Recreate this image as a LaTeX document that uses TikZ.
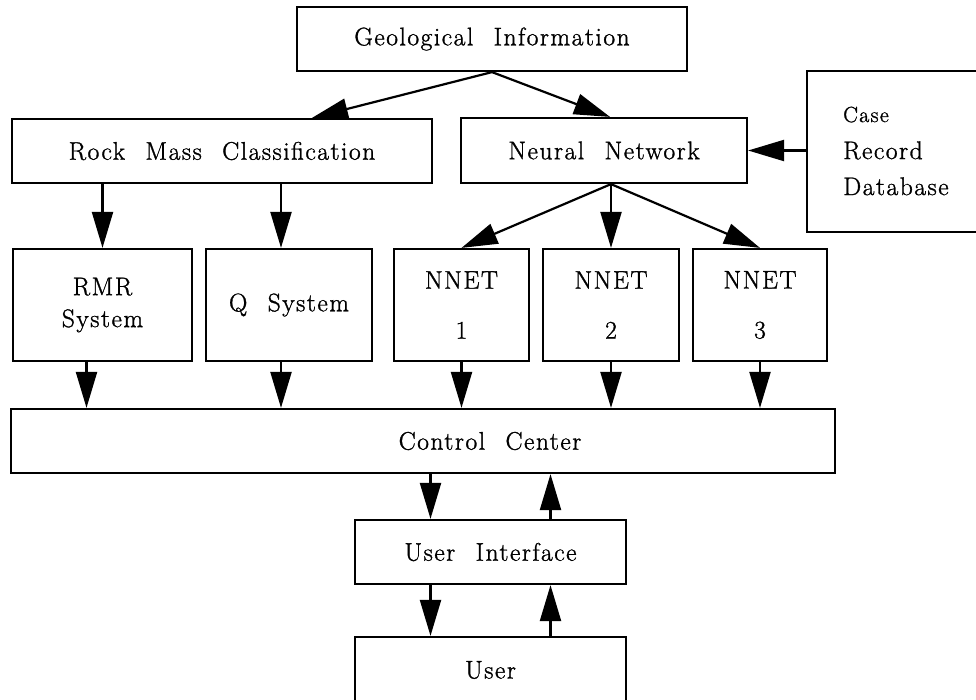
\documentclass[tikz,border=0pt]{standalone}
\usepackage{fontspec}
\setmainfont{Latin Modern Roman}[LetterSpace=6, FakeBold=1.2]
\usetikzlibrary{arrows.meta}
% wide gap between words, as set in the boxes
\newcommand\wordgap{\hspace{0.8em}}
\begin{document}
\begin{tikzpicture}[x=1pt,y=-1pt,
  every node/.style={font=\fontsize{25.5}{30}\selectfont},
  blk/.style={draw, line width=2.2pt, inner sep=0pt, align=center},
  lbl/.style={inner sep=0pt, align=center},
  flow/.style={line width=2.2pt, -{Triangle[length=36pt,width=21pt]}}]
\useasboundingbox (0,0) rectangle (976,699);
\clip (0,0) rectangle (976,699);

% top level
\node[blk, minimum width=390pt, minimum height=64pt] (geo) at (492,39) {Geological\wordgap Information};
\node[blk, minimum width=420pt, minimum height=64pt] (rmc) at (222,151) {Rock\wordgap Mass\wordgap Classification};
\node[blk, minimum width=286pt, minimum height=65pt] (nn) at (604,150.5) {Neural\wordgap Network};
\node[blk, minimum width=193pt, minimum height=161pt] (case) at (903.5,151.5) {};
\node[lbl, anchor=west, align=left] (casetext) at (843,151)
  {{\fontsize{22}{30}\selectfont Case}\\[7pt]Record\\[6pt]Database};

% classification systems and networks
\node[blk, minimum width=179pt, minimum height=112pt] (rmr) at (102.5,305) {RMR\\[2pt]System};
\node[blk, minimum width=166pt, minimum height=112pt] (qs) at (289,305) {Q\wordgap System};
\node[blk, minimum width=135pt, minimum height=112pt] (n1) at (461.5,305) {NNET\\[20pt]1};
\node[blk, minimum width=136pt, minimum height=112pt] (n2) at (611,305) {NNET\\[20pt]2};
\node[blk, minimum width=134pt, minimum height=112pt] (n3) at (760,305) {NNET\\[20pt]3};

% control and user side
\node[blk, minimum width=824pt, minimum height=64pt] (cc) at (423,441) {};
\node[lbl] (cctext) at (490,441) {Control\wordgap Center};
\node[blk, minimum width=271pt, minimum height=64pt] (ui) at (490.5,552) {User\wordgap Interface};
\node[blk, minimum width=271pt, minimum height=66pt] (user) at (490.5,670) {User};

% connectors
\draw[flow] (geo.south) -- ([xshift=90pt]rmc.north);
\draw[flow] (geo.south) -- ([xshift=6pt]nn.north);
\draw[flow] (rmc.south -| rmr.north) -- (rmr.north);
\draw[flow] ([xshift=-8pt]rmc.south -| qs.north) -- ([xshift=-8pt]qs.north);
\draw[flow] ([xshift=7pt]nn.south) -- (n1.north);
\draw[flow] ([xshift=7pt]nn.south) -- (n2.north);
\draw[flow] ([xshift=7pt]nn.south) -- (n3.north);
\draw[flow] (case.west |- nn.east) -- (nn.east);

\draw[flow] ([xshift=-16pt]rmr.south) -- ([xshift=-16pt]rmr.south |- cc.north);
\draw[flow] ([xshift=-8pt]qs.south) -- ([xshift=-8pt]qs.south |- cc.north);
\draw[flow] (n1.south) -- (n1.south |- cc.north);
\draw[flow] (n2.south) -- (n2.south |- cc.north);
\draw[flow] (n3.south) -- (n3.south |- cc.north);

\draw[flow] ([xshift=-60pt]ui.north |- cc.south) -- ([xshift=-60pt]ui.north);
\draw[flow] ([xshift=60pt]ui.north) -- ([xshift=60pt]ui.north |- cc.south);
\draw[flow] ([xshift=-60pt]ui.south) -- ([xshift=-60pt]user.north);
\draw[flow] ([xshift=60pt]user.north) -- ([xshift=60pt]ui.south);
\end{tikzpicture}
\end{document}
